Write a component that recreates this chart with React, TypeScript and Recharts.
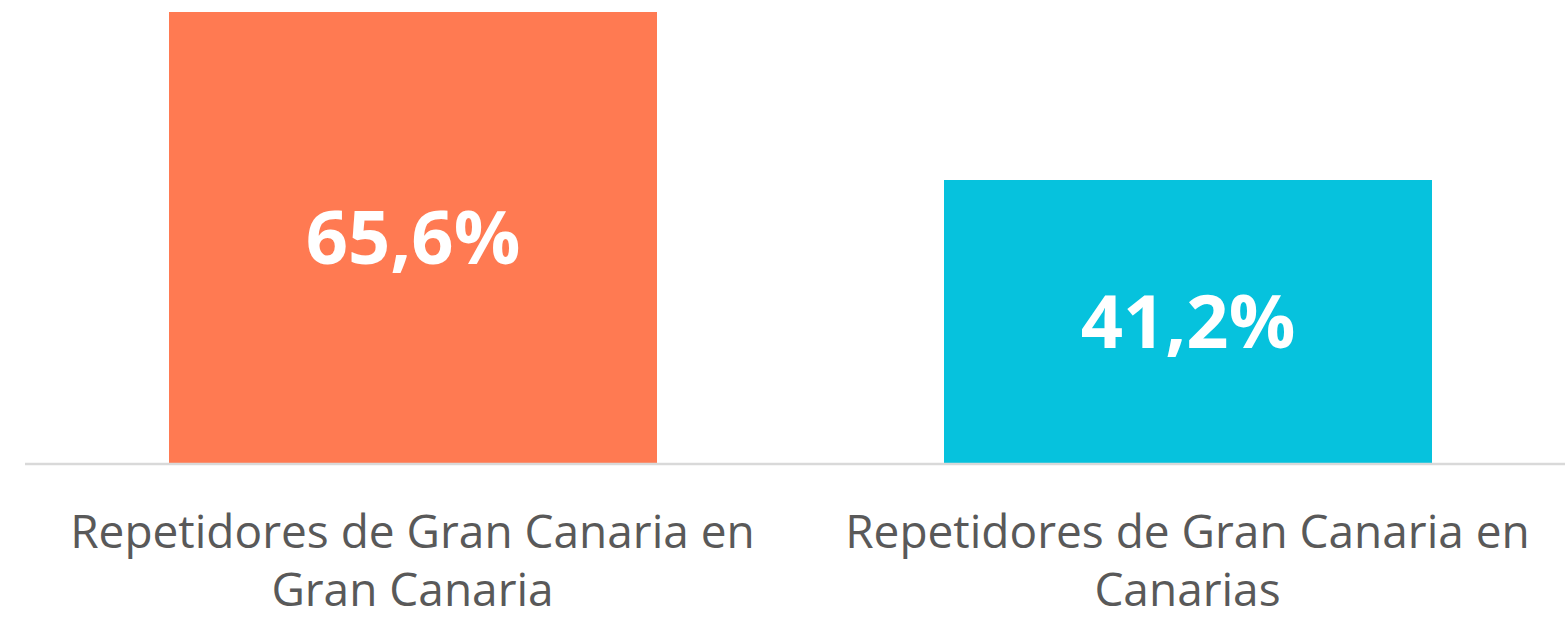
import React from "react";
import { BarChart, Bar, XAxis, YAxis, LabelList, Cell } from "recharts";

const categories = [
  "Repetidores de Gran Canaria en Gran Canaria",
  "Repetidores de Gran Canaria en Canarias",
];
const shares = [65.6, 41.2];
const barColors = ["#FF7A52", "#06C2DD"];

const data = categories.map((name, i) => ({ name, value: shares[i] }));

const FONT = "'Open Sans', sans-serif";
const TICK_SIZE = 46;
const WRAP_WIDTH = 720;

let ctx: CanvasRenderingContext2D | null = null;
function wrap(label: string): string[] {
  if (!ctx) ctx = document.createElement("canvas").getContext("2d");
  if (!ctx) return [label];
  ctx.font = `${TICK_SIZE}px ${FONT}`;
  const lines: string[] = [];
  let cur = "";
  for (const w of label.split(" ")) {
    const next = cur ? `${cur} ${w}` : w;
    if (cur && ctx.measureText(next).width > WRAP_WIDTH) {
      lines.push(cur);
      cur = w;
    } else {
      cur = next;
    }
  }
  if (cur) lines.push(cur);
  return lines;
}

function CategoryTick(props: any) {
  const { x, y, payload } = props;
  const lines = wrap(String(payload.value));
  return (
    <text x={x} y={y} textAnchor="middle" fill="#595959" fontSize={TICK_SIZE} fontFamily={FONT}>
      {lines.map((l, i) => (
        <tspan key={i} x={x} dy={i === 0 ? 76 : 58}>
          {l}
        </tspan>
      ))}
    </text>
  );
}

const fmt = (v: any) => `${String(v).replace(".", ",")}%`;

export default function App() {
  return (
    <div style={{ position: "absolute", left: 0, top: 0, width: 1565, height: 619, overflow: "hidden", background: "#fff" }}>
      <BarChart width={1575} height={619} data={data} margin={{ top: 12, right: 0, left: 25, bottom: 0 }}>
        <XAxis
          dataKey="name"
          height={155}
          tickLine={false}
          axisLine={{ stroke: "#d9d9d9", strokeWidth: 2.5 }}
          tick={<CategoryTick />}
          interval={0}
        />
        <YAxis hide domain={[0, "dataMax"]} />
        <Bar dataKey="value" barSize={488} isAnimationActive={false}>
          {data.map((d, i) => (
            <Cell key={d.name} fill={barColors[i]} />
          ))}
          <LabelList
            dataKey="value"
            position="center"
            formatter={fmt}
            fill="#ffffff"
            fontSize={74}
            fontWeight="bold"
            fontFamily={FONT}
          />
        </Bar>
      </BarChart>
    </div>
  );
}
